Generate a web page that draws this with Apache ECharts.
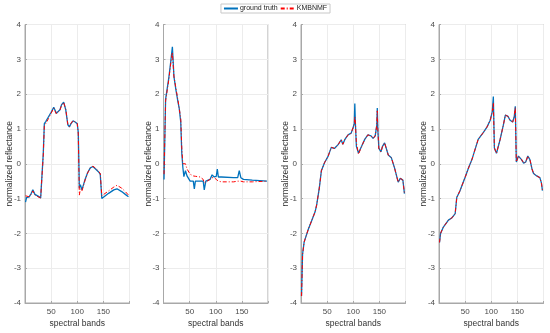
<!DOCTYPE html>
<html><head><meta charset="utf-8">
<script src="https://cdn.jsdelivr.net/npm/echarts@6/dist/echarts.min.js"></script>
<style>html,body{margin:0;padding:0;background:#fff}#c{width:550px;height:333px}</style>
</head><body><div id="c"></div>
<script>
// ---- data ----
const seriesNames = ['ground truth', 'KMBNMF'];
const xTicks = [50, 100, 150];
const yTicks = [-4, -3, -2, -1, 0, 1, 2, 3, 4];

const bands1 = [1,3,8,12,15,19,25,30,33,35,37,40,45,50,55,60,63,67,70,74,78,82,85,88,92,96,100,102,104,106,109,115,120,125,130,135,140,144,145,147,150,160,170,176,185,192,198];
const gt1 = [-1.1,-0.97,-0.95,-0.85,-0.75,-0.88,-0.93,-0.98,-0.95,0.3,1.15,1.22,1.35,1.48,1.62,1.45,1.42,1.55,1.7,1.77,1.55,1.12,1.06,1.15,1.23,1.2,1.15,0.9,-0.7,-0.6,-0.75,-0.45,-0.25,-0.12,-0.08,-0.15,-0.22,-0.3,-0.28,-1.0,-0.95,-0.85,-0.75,-0.72,-0.8,-0.88,-0.95];
const km1 = [-0.92,-0.95,-0.95,-0.87,-0.78,-0.9,-0.95,-0.98,-0.97,0.25,1.1,1.16,1.3,1.45,1.6,1.43,1.42,1.55,1.68,1.76,1.56,1.13,1.07,1.16,1.24,1.2,1.16,0.85,-0.9,-0.72,-0.78,-0.47,-0.26,-0.12,-0.07,-0.13,-0.2,-0.28,-0.3,-0.92,-0.9,-0.78,-0.67,-0.62,-0.7,-0.8,-0.9];

const bands2 = [1,4,6,10,14,17,20,24,28,30,31,33,35,37,39,42,45,51,57,59,61,70,76,78,81,89,93,97,101,103,105,111,134,142,145,148,153,170,198];
const gt2 = [-0.45,1.85,2.05,2.45,2.95,3.36,2.5,2.1,1.75,1.6,1.65,1.2,0.3,-0.1,-0.37,-0.2,-0.35,-0.5,-0.5,-0.72,-0.5,-0.5,-0.5,-0.75,-0.5,-0.45,-0.32,-0.38,-0.36,-0.15,-0.38,-0.38,-0.4,-0.4,-0.2,-0.4,-0.45,-0.47,-0.5];
const km2 = [-0.3,1.8,2.0,2.4,2.9,3.2,2.5,2.15,1.8,1.75,1.75,1.3,0.45,0.0,-0.05,0.0,-0.15,-0.3,-0.35,-0.37,-0.36,-0.38,-0.45,-0.55,-0.5,-0.45,-0.4,-0.4,-0.45,-0.48,-0.5,-0.52,-0.52,-0.5,-0.45,-0.5,-0.52,-0.52,-0.5];

const bands3 = [1,3,6,14,20,27,30,35,39,45,52,58,64,71,77,80,84,90,96,100,102,103,104,106,110,116,122,128,134,138,142,145,146,147,149,153,156,160,167,173,179,186,190,192,195,198];
const gt3 = [-3.8,-2.6,-2.25,-1.88,-1.65,-1.38,-1.18,-0.7,-0.2,0.03,0.22,0.47,0.44,0.55,0.69,0.56,0.7,0.83,0.88,1.05,1.16,1.73,1.2,0.5,0.31,0.5,0.7,0.83,0.8,0.73,0.8,1.1,1.6,1.0,0.45,0.34,0.5,0.6,0.25,0.17,-0.12,-0.53,-0.42,-0.38,-0.47,-0.86];
const km3 = [-3.8,-2.6,-2.25,-1.88,-1.65,-1.38,-1.18,-0.7,-0.2,0.03,0.22,0.47,0.44,0.55,0.69,0.56,0.7,0.83,0.88,1.05,1.15,1.35,1.2,0.6,0.27,0.5,0.7,0.83,0.8,0.73,0.8,1.1,1.52,1.0,0.43,0.34,0.5,0.6,0.25,0.17,-0.12,-0.53,-0.42,-0.38,-0.47,-0.86];

const bands4 = [1,3,8,18,25,31,34,40,50,57,63,75,85,92,98,102,104,106,110,117,123,127,132,136,141,144,146,148,152,155,158,162,166,170,174,178,181,187,193,196,198];
const gt4 = [-2.26,-2.0,-1.83,-1.62,-1.55,-1.43,-0.97,-0.78,-0.39,-0.1,0.12,0.7,0.9,1.06,1.25,1.5,1.93,0.45,0.3,0.7,1.1,1.4,1.36,1.25,1.2,1.35,1.65,0.05,0.22,0.25,0.12,0.02,0.05,0.22,0.12,-0.15,-0.28,-0.35,-0.4,-0.55,-0.77];
const km4 = [-2.26,-2.0,-1.83,-1.62,-1.55,-1.43,-0.97,-0.78,-0.39,-0.1,0.12,0.7,0.9,1.06,1.25,1.5,1.75,0.45,0.3,0.7,1.1,1.4,1.36,1.25,1.2,1.35,1.62,0.05,0.22,0.25,0.12,0.02,0.05,0.22,0.12,-0.15,-0.28,-0.35,-0.4,-0.55,-0.77];

// ---- chart ----
const panels = [
  {b: bands1, gt: gt1, km: km1},
  {b: bands2, gt: gt2, km: km2},
  {b: bands3, gt: gt3, km: km3},
  {b: bands4, gt: gt4, km: km4}
];
const lefts = [25, 163.5, 301, 439];
const FONT = '"Liberation Sans", Arial, sans-serif';
const textColor = '#4a4a4a';
const axisColor = '#a8a8a8';

const grids = [], xAxes = [], yAxes = [], series = [];
panels.forEach((p, i) => {
  grids.push({left: lefts[i], top: 24.5, width: 104.5, height: 283, show: true, borderColor: axisColor, borderWidth: 1, containLabel: false});
  xAxes.push({
    type: 'value', gridIndex: i, min: 0, max: 200, interval: 50,
    name: 'spectral bands', nameLocation: 'middle', nameGap: 16, nameMoveOverlap: false,
    nameTextStyle: {fontFamily: FONT, fontSize: 8.5, color: '#333'},
    axisLine: {show: true, onZero: false, lineStyle: {color: axisColor}},
    axisTick: {show: true, inside: true, length: 2, lineStyle: {color: axisColor}},
    axisLabel: {fontFamily: FONT, fontSize: 8, color: textColor, margin: 5,
      formatter: v => (xTicks.indexOf(v) >= 0 ? String(v) : '')},
    splitLine: {show: true, lineStyle: {color: '#ececec', width: 1}}
  });
  yAxes.push({
    type: 'value', gridIndex: i, min: yTicks[0], max: yTicks[yTicks.length - 1], interval: 1,
    name: 'normalized reflectance', nameLocation: 'middle', nameGap: 10.5, nameRotate: 90, nameMoveOverlap: false,
    nameTextStyle: {fontFamily: FONT, fontSize: 8.5, color: '#333'},
    axisLine: {show: true, onZero: false, lineStyle: {color: axisColor}},
    axisTick: {show: true, inside: true, length: 2, lineStyle: {color: axisColor}},
    axisLabel: {fontFamily: FONT, fontSize: 8, color: textColor, margin: 4},
    splitLine: {show: true, lineStyle: {color: '#ececec', width: 1}}
  });
  series.push({
    name: seriesNames[0], type: 'line', xAxisIndex: i, yAxisIndex: i,
    data: p.b.map((x, j) => [x, p.gt[j]]), symbol: 'none', showSymbol: false,
    color: '#0072BD', lineStyle: {color: '#0072BD', width: 1.3}, z: 2, animation: false
  });
  series.push({
    name: seriesNames[1], type: 'line', xAxisIndex: i, yAxisIndex: i,
    data: p.b.map((x, j) => [x, p.km[j]]), symbol: 'none', showSymbol: false,
    color: '#FF0000', lineStyle: {color: '#FF0000', width: 1, type: [4, 2, 1, 2]}, z: 3, animation: false
  });
});

const chart = echarts.init(document.getElementById('c'), null, {renderer: 'canvas'});
chart.setOption({
  animation: false,
  backgroundColor: '#fff',
  legend: {
    data: seriesNames, top: 4, left: 'center',
    itemWidth: 14, itemHeight: 6, itemGap: 2,
    itemStyle: {opacity: 0},
    padding: [1, 3, 1, 2], borderColor: '#c8c8c8', borderWidth: 1, backgroundColor: '#fff',
    textStyle: {fontFamily: FONT, fontSize: 7, color: '#222', padding: [0, 0, 0, -3]}
  },
  grid: grids, xAxis: xAxes, yAxis: yAxes, series: series
});
</script>
</body></html>
